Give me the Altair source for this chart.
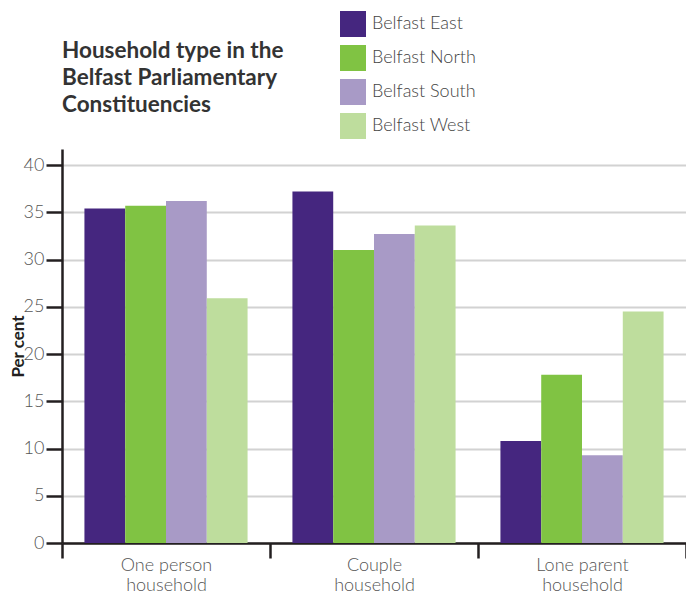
import altair as alt
import pandas as pd

categories = ["One person household", "Couple household", "Lone parent household"]
constituencies = ["Belfast East", "Belfast North", "Belfast South", "Belfast West"]
belfast_east = [35.4, 37.2, 10.8]
belfast_north = [35.7, 31.0, 17.8]
belfast_south = [36.2, 32.7, 9.3]
belfast_west = [25.9, 33.6, 24.5]
colors = ["#45267f", "#80c343", "#a89ac6", "#bedd9d"]
y_ticks = [0, 5, 10, 15, 20, 25, 30, 35, 40]
title_lines = ["Household type in the", "Belfast Parliamentary", "Constituencies"]

rows = []
for name, vals in zip(constituencies, [belfast_east, belfast_north, belfast_south, belfast_west]):
    for cat, v in zip(categories, vals):
        rows.append({"Household": cat, "Constituency": name, "Percent": v})
df = pd.DataFrame(rows)

FONT = "Lato"

chart = alt.Chart(df).mark_bar().encode(
    x=alt.X(
        "Household:N",
        sort=categories,
        scale=alt.Scale(paddingInner=0, paddingOuter=0),
        axis=alt.Axis(
            title=None,
            labelAngle=0,
            tickBand="extent",
            labelExpr="datum.label ? [replace(datum.label, ' household', ''), 'household'] : ''",
            labelFont=FONT,
            labelFontSize=18,
            labelFontWeight=300,
            labelColor="#555555",
            labelLineHeight=20,
            labelPadding=-2,
            domainColor="#231f20",
            domainWidth=2.5,
            tickColor="#231f20",
            tickWidth=2.5,
            tickSize=15,
            grid=False,
        ),
    ),
    xOffset=alt.XOffset(
        "Constituency:N",
        sort=constituencies,
        scale=alt.Scale(paddingInner=0, paddingOuter=0.55),
    ),
    y=alt.Y(
        "Percent:Q",
        scale=alt.Scale(domain=[0, 41.7], nice=False, zero=True),
        axis=alt.Axis(
            values=y_ticks,
            title="Per cent",
            titleFont=FONT,
            titleFontSize=17,
            titleFontWeight="bold",
            titleColor="#231f20",
            titleX=-44,
            titleBaseline="middle",
            labelFont=FONT,
            labelFontSize=18,
            labelFontWeight=300,
            labelColor="#555555",
            labelPadding=2,
            domainColor="#231f20",
            domainWidth=2.5,
            tickColor="#231f20",
            tickWidth=2.5,
            tickSize=16,
            grid=True,
            gridColor="#d2d2d2",
            gridWidth=2,
        ),
    ),
    color=alt.Color(
        "Constituency:N",
        sort=constituencies,
        scale=alt.Scale(domain=constituencies, range=colors),
        legend=alt.Legend(
            title=None,
            orient="none",
            legendX=278,
            legendY=-138,
            symbolType="square",
            symbolSize=676,
            symbolStrokeWidth=0,
            symbolOpacity=1,
            rowPadding=8,
            labelOffset=6,
            labelFont=FONT,
            labelFontSize=18,
            labelFontWeight=300,
            labelColor="#444444",
            padding=0,
        ),
    ),
).properties(
    width=624,
    height=394,
    title=alt.TitleParams(
        text=title_lines,
        anchor="start",
        frame="group",
        font=FONT,
        fontSize=22.5,
        fontWeight="bold",
        color="#333333",
        lineHeight=27,
        offset=0,
        dy=105,
    ),
    autosize=alt.AutoSizeParams(type="none"),
    padding={"left": 62, "top": 149, "right": 0, "bottom": 50},
).configure_view(strokeWidth=0)

chart.save("out.html", embed_options={"renderer": "svg", "actions": False})
